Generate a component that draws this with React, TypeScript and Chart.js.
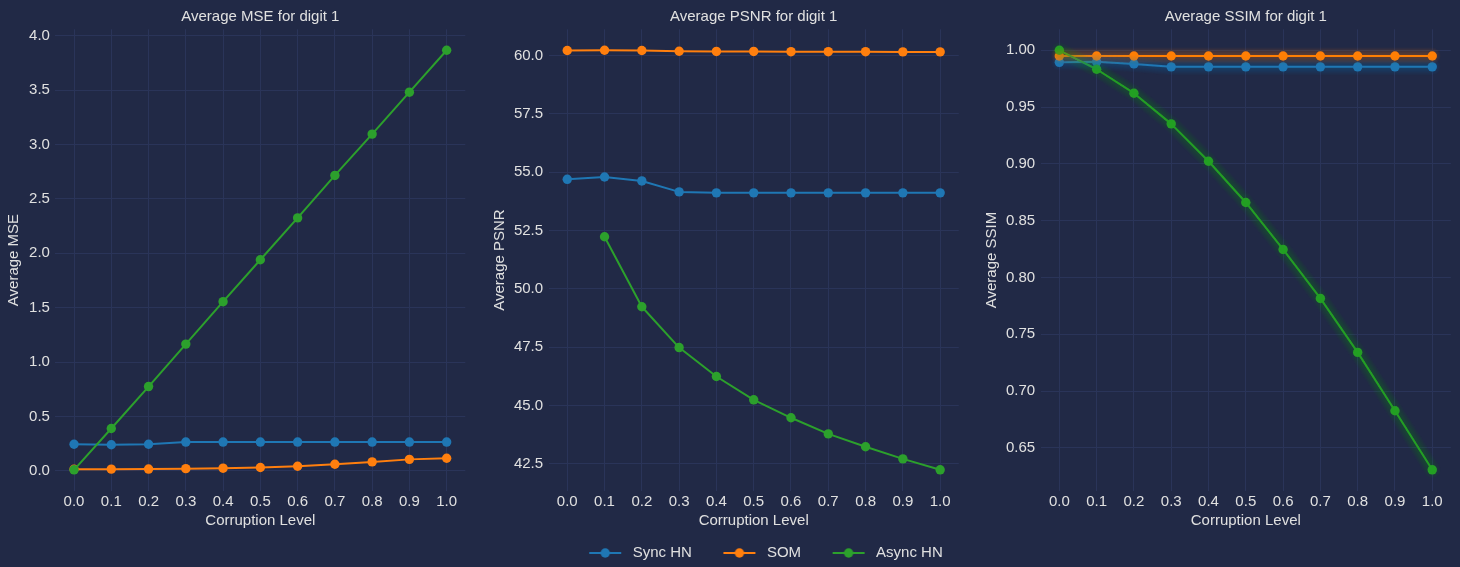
import React, { useEffect, useRef } from "react";
import { Chart, registerables } from "chart.js";

Chart.register(...registerables);

// Corruption levels shared by every panel
const corruption = [0, 0.1, 0.2, 0.3, 0.4, 0.5, 0.6, 0.7, 0.8, 0.9, 1.0];

// Average MSE per model
const mseSync = [0.245, 0.24, 0.245, 0.265, 0.265, 0.265, 0.265, 0.265, 0.265, 0.265, 0.265];
const mseSom = [0.015, 0.016, 0.017, 0.021, 0.025, 0.031, 0.043, 0.061, 0.083, 0.106, 0.116];
const mseAsync = [0.01, 0.39, 0.775, 1.165, 1.555, 1.94, 2.325, 2.715, 3.095, 3.48, 3.865];

// Average PSNR per model (no value for Async HN at zero corruption)
const psnrSync = [54.69, 54.79, 54.62, 54.15, 54.11, 54.11, 54.11, 54.11, 54.11, 54.11, 54.11];
const psnrSom = [60.21, 60.22, 60.21, 60.18, 60.17, 60.17, 60.16, 60.16, 60.16, 60.15, 60.15];
const psnrAsync = [null, 52.23, 49.23, 47.48, 46.24, 45.24, 44.47, 43.78, 43.23, 42.71, 42.24];

// Average SSIM per model
const ssimSync = [0.9894, 0.9898, 0.988, 0.9854, 0.9854, 0.9854, 0.9854, 0.9854, 0.9854, 0.9854, 0.9854];
const ssimSom = [0.995, 0.995, 0.995, 0.995, 0.995, 0.995, 0.995, 0.995, 0.995, 0.995, 0.995];
const ssimAsync = [1.0, 0.9833, 0.9622, 0.9352, 0.9023, 0.866, 0.8246, 0.7815, 0.734, 0.6826, 0.6306];

// Tick values
const xTicks = corruption;
const mseTicks = [0, 0.5, 1.0, 1.5, 2.0, 2.5, 3.0, 3.5, 4.0];
const psnrTicks = [42.5, 45.0, 47.5, 50.0, 52.5, 55.0, 57.5, 60.0];
const ssimTicks = [0.65, 0.7, 0.75, 0.8, 0.85, 0.9, 0.95, 1.0];

const seriesNames = ["Sync HN", "SOM", "Async HN"];
const seriesColors = ["#1f77b4", "#ff7f0e", "#2ca02c"];

const BG = "#212946";
const GRID = "#2A3459";
const TEXT = "#e0e0e0";
const MARKER_R = 4.7;
const FONT_FAMILY = "'Liberation Sans', Arial, Helvetica, sans-serif";
const font = { family: FONT_FAMILY, size: 15, weight: "normal" as const, lineHeight: 1.2 };

Chart.defaults.font.family = FONT_FAMILY;

type Series = (number | null)[];

interface PanelSpec {
  title: string;
  yLabel: string;
  series: Series[];
  yTicks: number[];
  decimals: number;
  left: number;
  width: number;
  height: number;
  yAxisWidth: number;
  yTitlePad: number;
  padRight: number;
  padBottom: number;
  glow: boolean;
  legend: boolean;
  spacer: number;
}

function paddedRange(series: Series[], frac = 0.05): [number, number] {
  const vals = series.flat().filter((v): v is number => v !== null);
  const lo = Math.min(...vals);
  const hi = Math.max(...vals);
  const m = (hi - lo) * frac;
  return [lo - m, hi + m];
}

function hexToRgba(hex: string, a: number) {
  const n = parseInt(hex.slice(1), 16);
  return `rgba(${(n >> 16) & 255}, ${(n >> 8) & 255}, ${n & 255}, ${a})`;
}

// Legend swatch: a short line with a marker in the middle
function legendSwatch(color: string) {
  const c = document.createElement("canvas");
  c.width = 52;
  c.height = 14;
  const g = c.getContext("2d")!;
  g.strokeStyle = color;
  g.lineWidth = 2;
  g.beginPath();
  g.moveTo(16, 7);
  g.lineTo(48, 7);
  g.stroke();
  g.fillStyle = color;
  g.beginPath();
  g.arc(32, 7, MARKER_R, 0, Math.PI * 2);
  g.fill();
  return c;
}

function buildConfig(p: PanelSpec): any {
  const [yMin, yMax] = paddedRange(p.series);

  const datasets: any[] = p.series.map((vals, i) => ({
    label: seriesNames[i],
    data: corruption.map((x, j) => ({ x, y: vals[j] })),
    borderColor: seriesColors[i],
    backgroundColor: seriesColors[i],
    pointBackgroundColor: seriesColors[i],
    pointBorderWidth: 0,
    pointRadius: MARKER_R,
    borderWidth: 2,
    borderJoinStyle: "round",
    tension: 0,
    spanGaps: false,
    order: 3 - i,
  }));

  if (p.glow) {
    // layered translucent strokes give the neon glow
    p.series.forEach((vals, i) => {
      for (let n = 1; n <= 10; n++) {
        datasets.push({
          label: "",
          data: corruption.map((x, j) => ({ x, y: vals[j] })),
          borderColor: hexToRgba(seriesColors[i], 0.03),
          borderWidth: (1.5 + 1.05 * n) * 1.39,
          borderJoinStyle: "round",
          borderCapStyle: "round",
          pointRadius: 0,
          tension: 0,
          order: 0,
        });
      }
    });
  }

  const scales: any = {
    x: {
      type: "linear",
      min: -0.05,
      max: 1.05,
      afterBuildTicks: (s: any) => {
        s.ticks = xTicks.map((v) => ({ value: v }));
      },
      afterFit: (s: any) => {
        s.height = 39.2;
      },
      ticks: {
        callback: (v: any) => Number(v).toFixed(1),
        font,
        color: TEXT,
        padding: 2.2,
        maxRotation: 0,
        autoSkip: false,
      },
      grid: { color: GRID, lineWidth: 1, drawTicks: false },
      border: { display: false },
      title: { display: true, text: "Corruption Level", font, color: TEXT, padding: { top: 0, bottom: 0 } },
    },
    y: {
      type: "linear",
      position: "left",
      min: yMin,
      max: yMax,
      afterBuildTicks: (s: any) => {
        s.ticks = p.yTicks.map((v) => ({ value: v }));
      },
      afterFit: (s: any) => {
        s.width = p.yAxisWidth;
      },
      ticks: {
        callback: (v: any) => Number(v).toFixed(p.decimals),
        font,
        color: TEXT,
        padding: 5.5,
        autoSkip: false,
      },
      grid: { color: GRID, lineWidth: 1, drawTicks: false },
      border: { display: false },
      title: { display: true, text: p.yLabel, font, color: TEXT, padding: { top: p.yTitlePad, bottom: 0 } },
    },
  };

  if (p.spacer > 0) {
    scales.spacer = {
      type: "linear",
      position: "right",
      display: true,
      grid: { display: false },
      ticks: { display: false },
      border: { display: false },
      afterFit: (s: any) => {
        s.width = p.spacer;
      },
    };
  }

  return {
    type: "line",
    data: { datasets },
    options: {
      responsive: false,
      animation: false,
      events: [],
      layout: { padding: { left: 0, right: p.padRight, top: 0, bottom: p.padBottom } },
      scales,
      plugins: {
        tooltip: { enabled: false },
        title: {
          display: true,
          text: p.title,
          font,
          color: TEXT,
          fullSize: false,
          padding: { top: 8, bottom: 3.3 },
        },
        legend: {
          display: p.legend,
          position: "bottom",
          align: "center",
          labels: {
            font,
            color: TEXT,
            usePointStyle: true,
            pointStyleWidth: 52,
            padding: 15.5,
            generateLabels: () =>
              seriesNames.map((name, i) => ({
                text: name,
                pointStyle: legendSwatch(seriesColors[i]),
                fillStyle: seriesColors[i],
                strokeStyle: seriesColors[i],
                lineWidth: 0,
                hidden: false,
                datasetIndex: i,
                fontColor: TEXT,
              })),
          },
        },
      },
    },
  };
}

function Panel({ spec }: { spec: PanelSpec }) {
  const ref = useRef<HTMLCanvasElement | null>(null);
  useEffect(() => {
    if (!ref.current) return;
    const chart = new Chart(ref.current, buildConfig(spec));
    return () => chart.destroy();
  }, [spec]);
  return (
    <canvas
      ref={ref}
      width={spec.width}
      height={spec.height}
      style={{ position: "absolute", left: spec.left, top: 0, width: spec.width, height: spec.height }}
    />
  );
}

const panels: PanelSpec[] = [
  {
    title: "Average MSE for digit 1",
    yLabel: "Average MSE",
    series: [mseSync, mseSom, mseAsync],
    yTicks: mseTicks,
    decimals: 1,
    left: 0,
    width: 470,
    height: 567,
    yAxisWidth: 55.4,
    yTitlePad: 5,
    padRight: 4.4,
    padBottom: 37,
    glow: false,
    legend: false,
    spacer: 0,
  },
  {
    title: "Average PSNR for digit 1",
    yLabel: "Average PSNR",
    series: [psnrSync, psnrSom, psnrAsync],
    yTicks: psnrTicks,
    decimals: 1,
    left: 486,
    width: 544,
    height: 571,
    yAxisWidth: 62.6,
    yTitlePad: 5,
    padRight: 0,
    padBottom: 0.5,
    glow: false,
    legend: true,
    spacer: 71.2,
  },
  {
    title: "Average SSIM for digit 1",
    yLabel: "Average SSIM",
    series: [ssimSync, ssimSom, ssimAsync],
    yTicks: ssimTicks,
    decimals: 2,
    left: 977,
    width: 483,
    height: 567,
    yAxisWidth: 63.7,
    yTitlePad: 5.5,
    padRight: 9.1,
    padBottom: 37,
    glow: true,
    legend: false,
    spacer: 0,
  },
];

export default function App() {
  return (
    <div
      style={{
        position: "fixed",
        left: 0,
        top: 0,
        width: 1460,
        height: 567,
        background: BG,
        overflow: "hidden",
      }}
    >
      {panels.map((p) => (
        <Panel key={p.title} spec={p} />
      ))}
    </div>
  );
}
